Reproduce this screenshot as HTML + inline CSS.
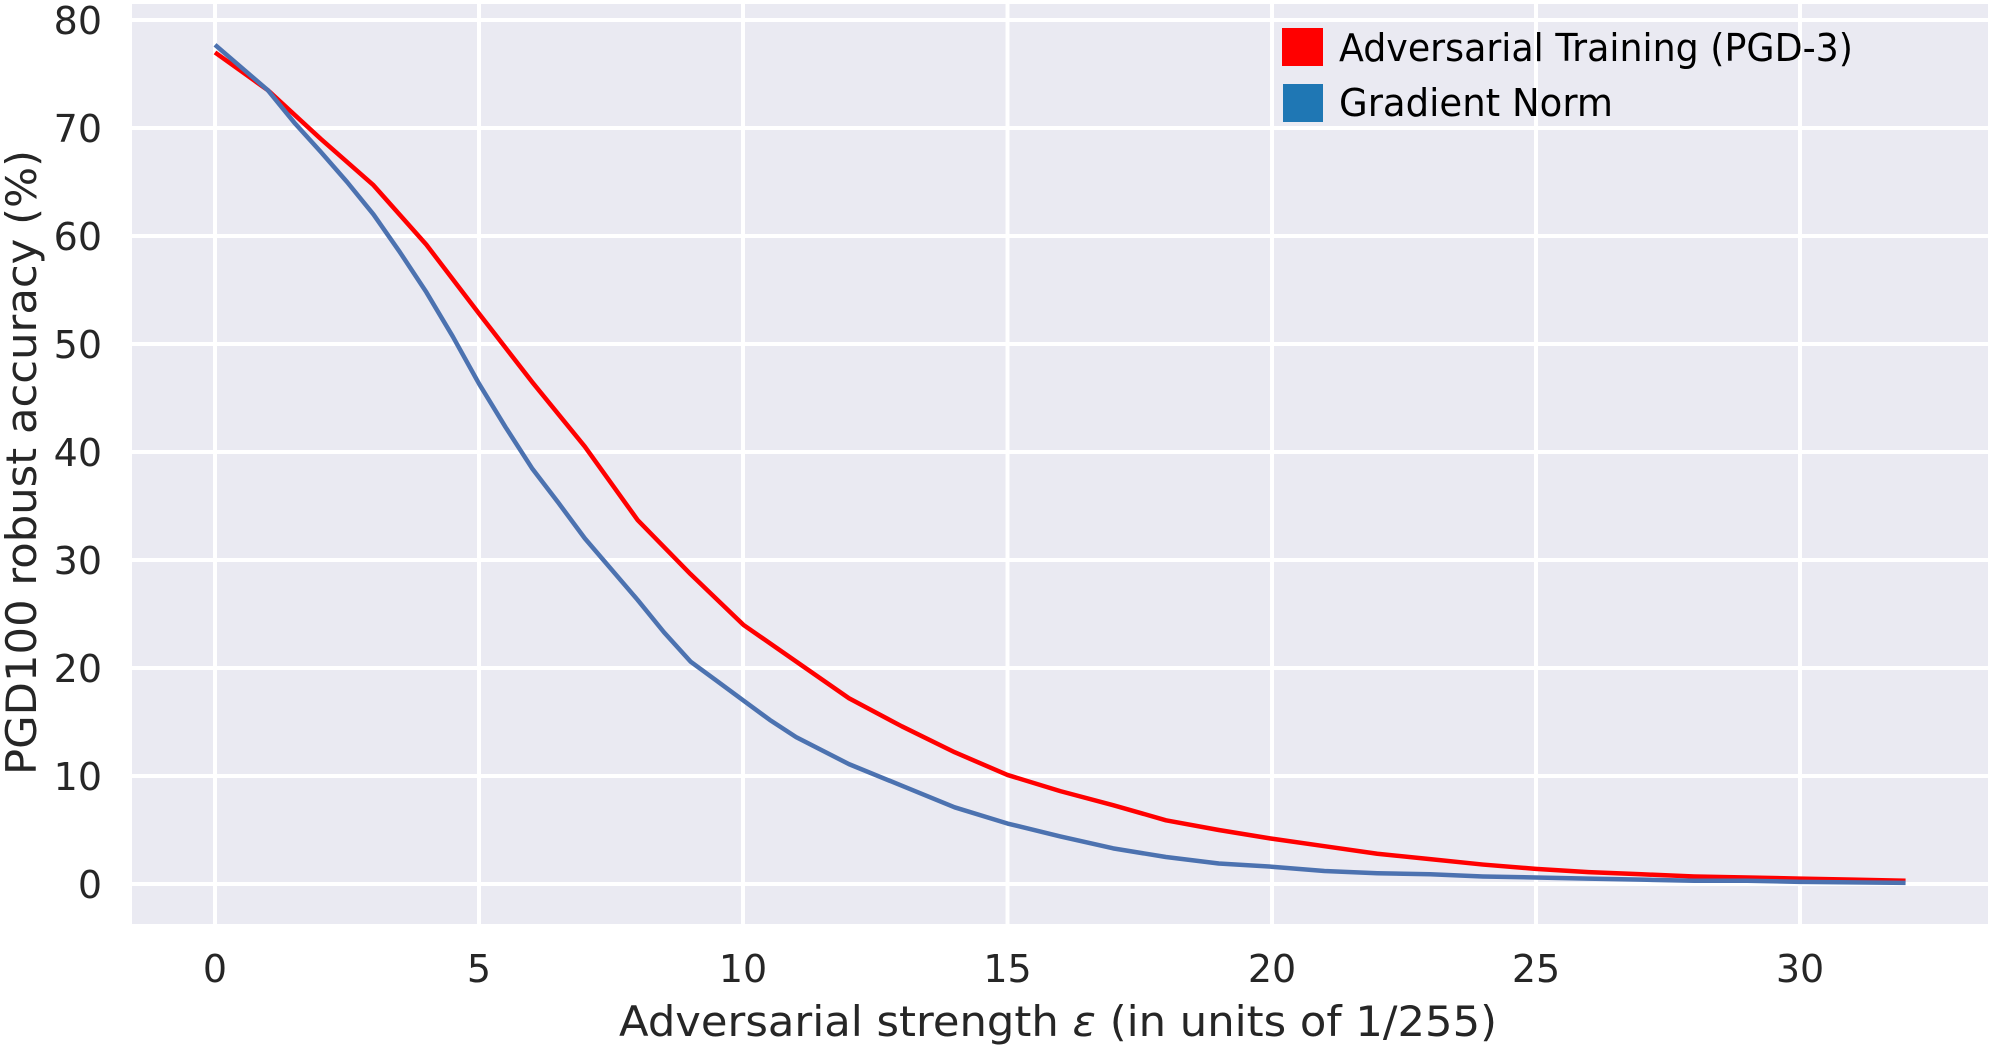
<!DOCTYPE html>
<html><head><style>html,body{margin:0;padding:0;background:#fff}svg{display:block}</style></head>
<body>
<svg width="1992" height="1050" viewBox="0 0 1992 1050" xmlns="http://www.w3.org/2000/svg" font-family="'DejaVu Sans','Liberation Sans',sans-serif" fill="#262626">
<rect x="132" y="4" width="1856" height="920" fill="#eaeaf2"/>
<g stroke="#fff" stroke-width="4">
<line x1="215" y1="4" x2="215" y2="924"/>
<line x1="479" y1="4" x2="479" y2="924"/>
<line x1="743" y1="4" x2="743" y2="924"/>
<line x1="1007.5" y1="4" x2="1007.5" y2="924"/>
<line x1="1272" y1="4" x2="1272" y2="924"/>
<line x1="1536" y1="4" x2="1536" y2="924"/>
<line x1="1800" y1="4" x2="1800" y2="924"/>
<line x1="132" y1="884" x2="1988" y2="884"/>
<line x1="132" y1="776" x2="1988" y2="776"/>
<line x1="132" y1="668" x2="1988" y2="668"/>
<line x1="132" y1="560" x2="1988" y2="560"/>
<line x1="132" y1="452" x2="1988" y2="452"/>
<line x1="132" y1="344" x2="1988" y2="344"/>
<line x1="132" y1="236" x2="1988" y2="236"/>
<line x1="132" y1="128" x2="1988" y2="128"/>
<line x1="132" y1="20" x2="1988" y2="20"/>
</g>
<g transform="translate(215,884) scale(52.83,-10.8)" fill="none" stroke-linejoin="round">
<polyline vector-effect="non-scaling-stroke" stroke="#ff0000" stroke-width="4.5" points="0,77 1,73.5 2,69 3,64.7 4,59.2 5,52.8 6,46.5 7,40.5 8,33.7 9,28.7 10,24 11,20.6 12,17.2 13,14.6 14,12.2 15,10.1 16,8.6 17,7.3 18,5.9 19,5 20,4.2 21,3.5 22,2.8 23,2.3 24,1.8 25,1.4 26,1.1 27,0.9 28,0.7 29,0.6 30,0.5 31,0.4 32,0.3"/>
<polyline vector-effect="non-scaling-stroke" stroke="#4c72b0" stroke-width="4.5" points="0,77.7 1,73.5 1.5,70.5 2,67.8 2.5,65 3,62 3.5,58.5 4,54.8 4.5,50.7 5,46.3 5.5,42.3 6,38.5 6.5,35.3 7,32 8,26.3 8.5,23.3 9,20.6 9.5,18.8 10,17 10.5,15.2 11,13.6 12,11.1 13,9.1 14,7.1 15,5.6 16,4.4 17,3.3 18,2.5 19,1.9 20,1.6 21,1.2 22,1.0 23,0.9 24,0.7 25,0.6 26,0.5 27,0.4 28,0.3 29,0.3 30,0.2 32,0.1"/>
</g>
<g font-size="38" text-anchor="end">
<text x="102" y="898">0</text><text x="102" y="790">10</text><text x="102" y="682">20</text><text x="102" y="574">30</text><text x="102" y="466">40</text><text x="102" y="358">50</text><text x="102" y="250">60</text><text x="102" y="142">70</text><text x="102" y="34">80</text>
</g>
<g font-size="38" text-anchor="middle">
<text x="215" y="982">0</text><text x="479" y="982">5</text><text x="743" y="982">10</text><text x="1007.5" y="982">15</text><text x="1272" y="982">20</text><text x="1536" y="982">25</text><text x="1800" y="982">30</text>
</g>
<text x="619" y="1036" font-size="42" textLength="878" lengthAdjust="spacingAndGlyphs">Adversarial strength <tspan font-style="italic">ε</tspan> (in units of 1/255)</text>
<text transform="translate(36,775) rotate(-90)" font-size="42" textLength="625" lengthAdjust="spacingAndGlyphs">PGD100 robust accuracy (%)</text>
<rect x="1282" y="28" width="41" height="38" fill="#ff0000"/>
<rect x="1283" y="84" width="40" height="38" fill="#1f77b4"/>
<g font-size="38" fill="#000">
<text x="1339" y="61" textLength="514" lengthAdjust="spacingAndGlyphs">Adversarial Training (PGD-3)</text>
<text x="1339" y="116" textLength="274" lengthAdjust="spacingAndGlyphs">Gradient Norm</text>
</g>
</svg>
</body></html>
